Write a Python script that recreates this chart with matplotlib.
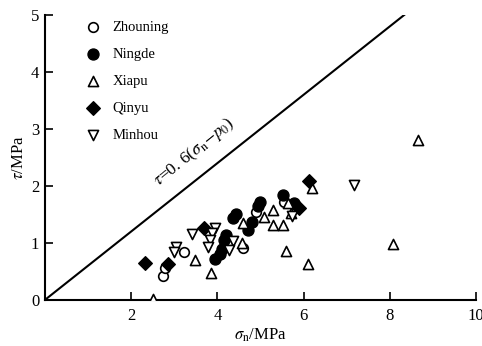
import numpy as np
import matplotlib
matplotlib.use("Agg")
import matplotlib.pyplot as plt

# data (sigma_n, tau) in MPa
zhouning_x = [2.74, 2.78, 3.23, 4.60, 5.55, 4.90]
zhouning_y = [0.42, 0.56, 0.84, 0.92, 1.72, 1.55]

ningde_x = [3.95, 4.05, 4.10, 4.15, 4.20, 4.37, 4.42, 4.72, 4.81, 4.93, 4.98, 5.53, 5.77]
ningde_y = [0.72, 0.80, 0.90, 1.05, 1.14, 1.44, 1.50, 1.23, 1.37, 1.65, 1.72, 1.84, 1.70]

xiapu_x = [2.51, 3.47, 3.86, 4.58, 4.60, 5.07, 5.30, 5.30, 5.53, 5.70, 5.63, 6.20, 5.60, 6.09, 8.07, 8.65]
xiapu_y = [0.02, 0.70, 0.47, 1.00, 1.35, 1.46, 1.58, 1.32, 1.32, 1.53, 1.70, 1.96, 0.86, 0.63, 0.98, 2.80]

qinyu_x = [2.33, 2.86, 3.69, 5.90, 6.12]
qinyu_y = [0.65, 0.63, 1.27, 1.61, 2.08]

minhou_x = [3.05, 3.00, 3.42, 3.95, 3.88, 3.82, 3.79, 4.37, 4.26, 5.74, 7.16]
minhou_y = [0.93, 0.85, 1.15, 1.27, 1.17, 1.05, 0.93, 1.04, 0.88, 1.48, 2.02]

line_x = [0.0, 8.4]
coef = 0.6

plt.rcParams['font.family'] = ['Liberation Serif', 'DejaVu Serif']
plt.rcParams['mathtext.fontset'] = 'stix'

fig = plt.figure(figsize=(4.82, 3.46), dpi=100)
ax = fig.add_axes([0.093, 0.133, 0.895, 0.824])

ms = 48
lw = 1.2
ax.scatter(zhouning_x, zhouning_y, s=ms, marker='o', facecolors='white', edgecolors='black', linewidths=lw, label='Zhouning', zorder=3)
ax.scatter(ningde_x, ningde_y, s=ms * 1.3, marker='o', color='black', label='Ningde', zorder=3)
ax.scatter(xiapu_x, xiapu_y, s=ms * 1.1, marker='^', facecolors='white', edgecolors='black', linewidths=lw, label='Xiapu', zorder=3)
ax.scatter(qinyu_x, qinyu_y, s=ms, marker='D', color='black', label='Qinyu', zorder=3)
ax.scatter(minhou_x, minhou_y, s=ms * 1.1, marker='v', facecolors='white', edgecolors='black', linewidths=lw, label='Minhou', zorder=3)

lx = np.array(line_x)
ax.plot(lx, coef * lx, color='black', linewidth=1.5, zorder=2)
ax.text(3.45, 2.6, r'$\tau$=0. 6($\sigma_{\rm n}$$-$$p_0$)', rotation=39,
        ha='center', va='center', fontsize=12.5)

ax.set_xlim(0, 10)
ax.set_ylim(0, 5)
ax.set_xticks([2, 4, 6, 8, 10])
ax.set_yticks([0, 1, 2, 3, 4, 5])
ax.spines['top'].set_visible(False)
ax.spines['right'].set_visible(False)
for s in ['left', 'bottom']:
    ax.spines[s].set_linewidth(1.5)
ax.tick_params(direction='in', length=6, width=1.2, labelsize=12)
ax.tick_params(axis='x', pad=6)
ax.tick_params(axis='y', pad=4)
ax.set_xlabel(r'$\sigma_{\rm n}$/MPa', fontsize=12, labelpad=2)
ax.set_ylabel(r'$\tau$/MPa', fontsize=12, labelpad=3)

ax.legend(loc='upper left', bbox_to_anchor=(0.055, 1.015), frameon=False,
          fontsize=10.5, labelspacing=0.95, handletextpad=0.3, borderpad=0.2)

fig.savefig('out.png', dpi=100)
